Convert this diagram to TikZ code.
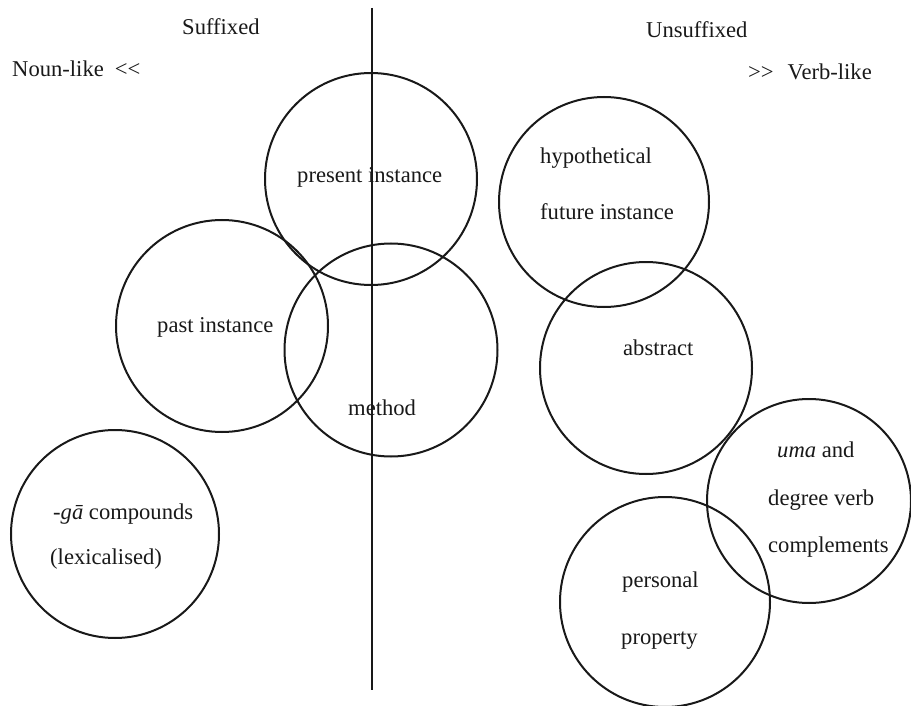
\documentclass[tikz,border=0pt]{standalone}
\usepackage{fontspec}
\setmainfont{Liberation Serif}
\begin{document}
\begin{tikzpicture}[x=1pt,y=-1pt,
  ring/.style={draw=black!90,line width=2pt,circle,inner sep=0pt,minimum size=#1},
  lbl/.style={anchor=base west,inner sep=0pt,font=\fontsize{22.6}{26}\selectfont,text=black!90}]
\useasboundingbox[fill=white] (0,0) rectangle (911,706);
% divider
\coordinate (ltop) at (372,8);
\coordinate (lbot) at (372,690);
\draw[line width=2pt,black!90] (ltop) -- (lbot);
% circles
\node[ring=212pt] (pres) at (371,179) {};
\node[ring=213pt] (meth) at (391,350) {};
\node[ring=212pt] (past) at (222,326) {};
\node[ring=208pt] (ga)   at (115,534) {};
\node[ring=210pt] (hyp)  at (604,202) {};
\node[ring=212pt] (abs)  at (646,368) {};
\node[ring=204pt] (uma)  at (809,501) {};
\node[ring=210pt] (pers) at (665,602) {};
% headings
\node[lbl] (suf)  at (182,35) {Suffixed};
\node[lbl] (unsuf) at (646,38) {Unsuffixed};
\node[lbl] (noun) at (12,77) {Noun-like\hspace{11pt}\hbox{<}\hbox{<}};
\node[lbl] (verb) at (748,80) {\hbox{>}\hbox{>}\hspace{14pt}Verb-like};
% circle labels
\node[lbl] (t1) at (297,183) {present instance};
\node[lbl] (t2a) at (540,164) {hypothetical};
\node[lbl] (t2b) at (540,219) {future instance};
\node[lbl] (t3) at (157,332) {past instance};
\node[lbl] (t4) at (348,415) {method};
\node[lbl] (t5) at (623,355) {abstract};
\node[lbl] (t6a) at (53,519) {-\textit{gā} compounds};
\node[lbl] (t6b) at (50,564) {(lexicalised)};
\node[lbl] (t7a) at (777,457) {\textit{uma} and};
\node[lbl] (t7b) at (768,505) {degree verb};
\node[lbl] (t7c) at (768,552) {complements};
\node[lbl] (t8a) at (622,587) {personal};
\node[lbl] (t8b) at (621,644) {property};
\end{tikzpicture}
\end{document}
